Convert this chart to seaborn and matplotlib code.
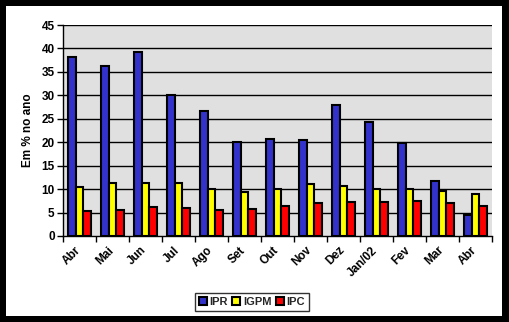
import matplotlib
matplotlib.use("Agg")
import matplotlib.pyplot as plt
import seaborn as sns
import pandas as pd
import numpy as np
from matplotlib.patches import Rectangle, Patch

months = ["Abr", "Mai", "Jun", "Jul", "Ago", "Set", "Out", "Nov", "Dez", "Jan/02", "Fev", "Mar", "Abr "]
ipr = [38.2, 36.3, 39.3, 30.1, 26.7, 20.1, 20.6, 20.4, 27.9, 24.3, 19.9, 11.7, 4.4]
igpm = [10.5, 11.3, 11.3, 11.3, 10.1, 9.3, 10.1, 11.0, 10.6, 10.1, 10.1, 9.5, 9.0]
ipc = [5.3, 5.5, 6.2, 6.0, 5.5, 5.8, 6.4, 7.0, 7.2, 7.2, 7.4, 7.0, 6.4]
series = ["IPR", "IGPM", "IPC"]
colors = ["#3333CC", "#FFFF00", "#FF0000"]
yticks = [0, 5, 10, 15, 20, 25, 30, 35, 40, 45]

df = pd.DataFrame({
    "mes": months * 3,
    "valor": ipr + igpm + ipc,
    "serie": ["IPR"] * 13 + ["IGPM"] * 13 + ["IPC"] * 13,
})

sns.set_theme(style="white")
plt.rcParams["font.family"] = ["Liberation Sans", "DejaVu Sans"]
plt.rcParams["font.weight"] = "bold"

fig = plt.figure(figsize=(5.09, 3.22), dpi=100)
fig.patch.set_facecolor("black")
fig.add_artist(Rectangle((6 / 509, 6 / 322), 496 / 509, 310 / 322,
                         transform=fig.transFigure, facecolor="white",
                         edgecolor="none", zorder=0))

ax = fig.add_axes([63 / 509, 86 / 322, 429 / 509, 211 / 322])
ax.set_facecolor("#E0E0E0")
sns.barplot(data=df, x="mes", y="valor", hue="serie", hue_order=series,
            palette=colors, width=0.70, edgecolor="black", linewidth=1.5,
            saturation=1, ax=ax, legend=False, zorder=3)

ax.set_ylim(0, 45)
ax.set_xlim(-0.5, 12.5)
ax.set_yticks(yticks)
ax.set_yticklabels([str(t) for t in yticks], fontsize=8.5, fontweight="bold")
for t in yticks[1:]:
    ax.axhline(t, color="black", lw=1.0, zorder=1)

ax.set_xticks(np.arange(13) - 0.15)
ax.set_xticklabels([m.strip() for m in months], rotation=45, ha="right",
                   rotation_mode="anchor", fontsize=8.5, fontweight="bold")
ax.set_xticks(np.arange(-0.5, 13, 1), minor=True)
ax.tick_params(axis="x", which="major", length=0, pad=6)
ax.tick_params(axis="x", which="minor", length=4, width=1, color="black", direction="out")
ax.tick_params(axis="y", length=4, width=1, color="black", direction="out", pad=2)
ax.tick_params(axis="both", colors="black", labelcolor="black")
ax.tick_params(axis="x", which="minor", bottom=True)
ax.tick_params(axis="y", left=True)

for s in ["top", "right"]:
    ax.spines[s].set_visible(False)
for s in ["left", "bottom"]:
    ax.spines[s].set_color("black")
    ax.spines[s].set_linewidth(1.0)

ax.set_xlabel("")
ax.set_ylabel("Em % no ano", fontsize=8.5, fontweight="bold", color="black", labelpad=5)

handles = [Patch(facecolor=c, edgecolor="black", linewidth=1.5) for c in colors]
leg = fig.legend(handles, series, loc="center", bbox_to_anchor=(252 / 509, 20 / 322),
                 ncol=3, frameon=True, fancybox=False, edgecolor="black",
                 prop={"weight": "bold", "size": 8}, handlelength=0.7,
                 handleheight=0.7, handletextpad=0.25, columnspacing=0.4,
                 borderpad=0.35, borderaxespad=0)
leg.get_frame().set_linewidth(1.0)

fig.savefig("out.png", dpi=100, facecolor=fig.get_facecolor())
